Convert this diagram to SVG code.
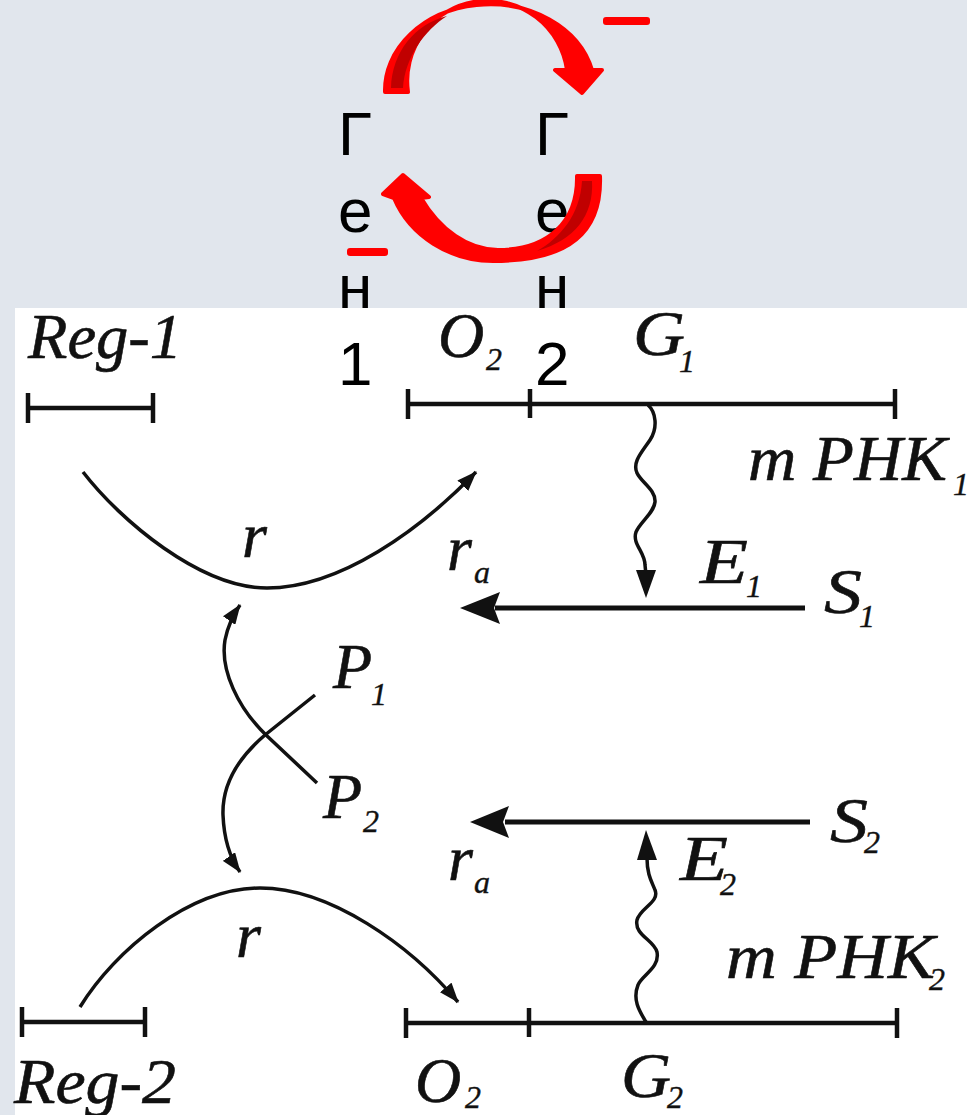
<svg xmlns="http://www.w3.org/2000/svg" width="967" height="1115" viewBox="0 0 967 1115">
  <defs>
    <style>
      .ln { fill: none; stroke: #111; stroke-width: 4.5; stroke-linecap: butt; }
      .cv { fill: none; stroke: #111; stroke-width: 3.5; }
      .hd { fill: #111; stroke: none; }
      .tx { font-family: "Liberation Serif", "Times New Roman", serif; font-style: italic; font-size: 64px; fill: #111; stroke: #111; stroke-width: 0.6; }
      .sb { font-family: "Liberation Serif", "Times New Roman", serif; font-style: italic; font-size: 32px; fill: #111; stroke: #111; stroke-width: 0.4; }
      .ru { font-family: "Liberation Sans", Arial, sans-serif; font-size: 62px; fill: #000; }
      .red { fill: #ff0000; stroke: #ff0000; stroke-width: 4; stroke-linejoin: round; }
      .dark { fill: #c00000; stroke: none; }
    </style>
    <marker id="ah" viewBox="0 0 20 15" refX="19" refY="7.5" markerWidth="20" markerHeight="15" markerUnits="userSpaceOnUse" orient="auto">
      <path d="M0,0 L20,7.5 L0,15 Z" fill="#111"/>
    </marker>
  </defs>

  <rect x="0" y="0" width="967" height="1115" fill="#e1e6ed"/>
  <rect x="15" y="308" width="952" height="807" fill="#ffffff"/>

  <g id="connectors">
    <g id="reg1-bar">
      <line class="ln" x1="27" y1="408" x2="154" y2="408"/>
      <line class="ln" x1="28" y1="393" x2="28" y2="423"/>
      <line class="ln" x1="153" y1="393" x2="153" y2="423"/>
    </g>
    <g id="operon1-bar">
      <line class="ln" x1="407" y1="404" x2="895" y2="404"/>
      <line class="ln" x1="408" y1="389" x2="408" y2="419"/>
      <line class="ln" x1="530" y1="389" x2="530" y2="418"/>
      <line class="ln" x1="895" y1="389" x2="895" y2="419"/>
    </g>
    <g id="reg2-bar">
      <line class="ln" x1="21" y1="1022" x2="146" y2="1022"/>
      <line class="ln" x1="22" y1="1007" x2="22" y2="1037"/>
      <line class="ln" x1="145" y1="1007" x2="145" y2="1037"/>
    </g>
    <g id="operon2-bar">
      <line class="ln" x1="405" y1="1023" x2="897" y2="1023"/>
      <line class="ln" x1="406" y1="1008" x2="406" y2="1038"/>
      <line class="ln" x1="529" y1="1008" x2="529" y2="1037"/>
      <line class="ln" x1="897" y1="1008" x2="897" y2="1038"/>
    </g>

    <path class="cv" marker-end="url(#ah)" d="M83 472 C120 520 200 588 267 588 C340 588 420 530 476 472"/>
    <path class="cv" marker-end="url(#ah)" d="M80 1007 C115 950 190 888 260 888 C330 888 410 945 458 1002"/>

    <path class="cv" marker-end="url(#ah)" d="M317 783 L266 735 C238 708 220 670 225 640 C228 625 233 615 240 605"/>
    <path class="cv" marker-end="url(#ah)" d="M315 695 L265 735 C238 758 222 785 223 815 C224 840 230 858 240 872"/>

    <path class="cv" d="M648 405 C656 412 658 428 650 440 C642 452 632 462 637 473 C641 482 656 490 655 502 C654 513 640 522 636 532 C632 544 645 552 645 565 L646 575"/>
    <polygon class="hd" points="636,570 656,570 646,598"/>
    <path class="cv" d="M646 1022 C640 1012 632 1000 638 985 C642 975 660 968 657 952 C654 940 634 935 637 920 C640 908 660 902 655 890 C652 882 647 875 647 858"/>
    <polygon class="hd" points="637,860 657,860 646,830"/>

    <line class="ln" x1="805" y1="608" x2="495" y2="608" style="stroke-width:5"/>
    <polygon class="hd" points="460,608 500,592 494,608 500,624"/>
    <line class="ln" x1="810" y1="822" x2="505" y2="822" style="stroke-width:5"/>
    <polygon class="hd" points="470,822 509,806 503,822 509,838"/>
  </g>

  <g id="labels">
    <g id="reg1"><text class="tx" x="28" y="358" textLength="154" lengthAdjust="spacingAndGlyphs">Reg-1</text></g>
    <g id="o2-top"><text class="tx" x="438" y="357">O</text><text class="sb" x="486" y="370">2</text></g>
    <g id="g1"><text class="tx" x="633" y="355" textLength="52" lengthAdjust="spacingAndGlyphs">G</text><text class="sb" x="679" y="372">1</text></g>
    <g id="mphk1"><text class="tx" x="748" y="480" textLength="199" lengthAdjust="spacingAndGlyphs">m PHK</text><text class="sb" x="953" y="495">1</text></g>
    <g id="r-top"><text class="tx" x="242" y="557">r</text></g>
    <g id="ra-top"><text class="tx" x="447" y="570">r</text><text class="sb" x="474" y="583">a</text></g>
    <g id="e1"><text class="tx" x="700" y="583" textLength="48" lengthAdjust="spacingAndGlyphs">E</text><text class="sb" x="746" y="597">1</text></g>
    <g id="s1"><text class="tx" x="824" y="613" textLength="38" lengthAdjust="spacingAndGlyphs">S</text><text class="sb" x="859" y="627">1</text></g>
    <g id="p1"><text class="tx" x="333" y="688">P</text><text class="sb" x="371" y="705">1</text></g>
    <g id="p2"><text class="tx" x="323" y="818">P</text><text class="sb" x="363" y="832">2</text></g>
    <g id="s2"><text class="tx" x="830" y="842" textLength="38" lengthAdjust="spacingAndGlyphs">S</text><text class="sb" x="864" y="853">2</text></g>
    <g id="e2"><text class="tx" x="680" y="880" textLength="48" lengthAdjust="spacingAndGlyphs">E</text><text class="sb" x="720" y="895">2</text></g>
    <g id="ra-bot"><text class="tx" x="448" y="880">r</text><text class="sb" x="474" y="893">a</text></g>
    <g id="r-bot"><text class="tx" x="236" y="957">r</text></g>
    <g id="mphk2"><text class="tx" x="726" y="978" textLength="209" lengthAdjust="spacingAndGlyphs">m PHK</text><text class="sb" x="929" y="990">2</text></g>
    <g id="reg2"><text class="tx" x="14" y="1103" textLength="162" lengthAdjust="spacingAndGlyphs">Reg-2</text></g>
    <g id="o2-bot"><text class="tx" x="415" y="1102">O</text><text class="sb" x="465" y="1108">2</text></g>
    <g id="g2"><text class="tx" x="621" y="1097" textLength="50" lengthAdjust="spacingAndGlyphs">G</text><text class="sb" x="667" y="1108">2</text></g>
  </g>

  <g id="gene1">
    <text class="ru" x="338"><tspan x="338" y="155">Г</tspan><tspan x="338" y="232">е</tspan><tspan x="338" y="308">н</tspan><tspan x="338" y="385">1</tspan></text>
  </g>
  <g id="gene2">
    <text class="ru" x="535"><tspan x="535" y="155">Г</tspan><tspan x="535" y="232">е</tspan><tspan x="535" y="308">н</tspan><tspan x="535" y="385">2</tspan></text>
  </g>

  <g id="cycle">
    <g id="arc-top">
      <path class="red" d="M385 92 A105 86 0 0 1 592 70 L602 70 L582 93 L555 70 L567 70 A80 80 0 0 0 408 92 Z"/>
      <path class="dark" d="M391 88 C392 52 415 24 447 16 C425 30 405 57 403 88 Z"/>
    </g>
    <g id="arc-bottom">
      <path class="red" d="M577 176 L600 176 C602 232 570 261 493 261 C450 261 410 236 394 198 L383 194 L403 175 L429 197 L421 198 C440 230 468 250 498 250 C548 250 578 222 577 176 Z"/>
      <path class="dark" d="M582 181 L592 181 C594 215 575 240 537 251 C560 238 580 215 582 181 Z"/>
    </g>
    <rect id="minus-top" x="603" y="17" width="47" height="8" rx="3" fill="#ff0000"/>
    <rect id="minus-bottom" x="347" y="248" width="41" height="8" rx="3" fill="#ff0000"/>
  </g>
</svg>
